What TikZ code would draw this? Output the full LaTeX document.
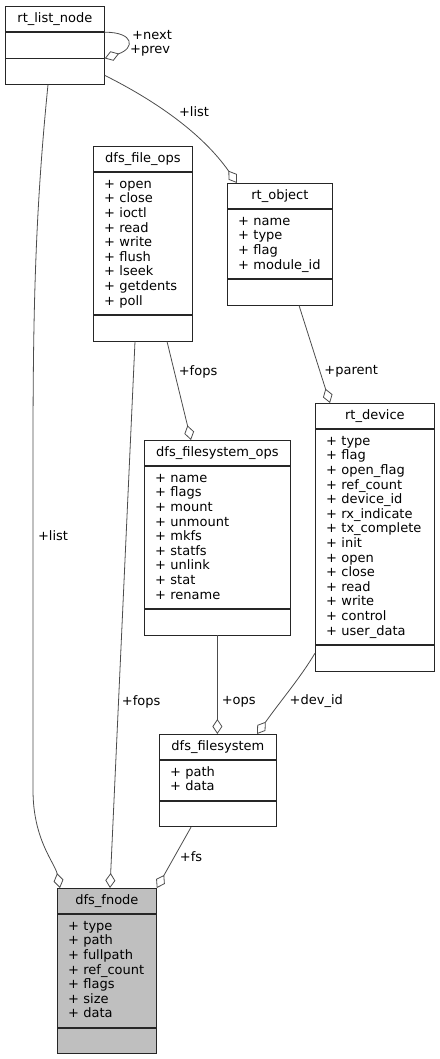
\documentclass[tikz,border=0pt]{standalone}
\usepackage{fontspec}
\setmainfont{DejaVu Sans}
\usepackage{tikz}
\usetikzlibrary{positioning}
\usetikzlibrary{calc}
\usetikzlibrary{arrows.meta}

\begin{document}
\begin{tikzpicture}
	[x=1pt,y=-1pt,
	cell/.style={draw=black!85,line width=0.8pt,inner xsep=0pt,inner ysep=5.4pt,
		font=\fontsize{13}{14.6}\selectfont,
		execute at begin node=\strut,execute at end node=\strut},
	head/.style={cell,anchor=north west},
	members/.style={cell,align=left,inner xsep=10.8pt},
	link/.style={draw=black!70,line width=0.8pt,-{Diamond[open,length=15pt,width=10pt]}},
	role/.style={font=\fontsize{13}{14.6}\selectfont,inner sep=0pt}]

	\useasboundingbox (0,0) rectangle (439,1059);

	% Draw the class boxes
	\node at (5,6) [head,minimum width=99pt](listnode){rt\_list\_node};
	\node [cell,minimum width=99pt,below=0pt of listnode](listnode-m){};
	\node [cell,minimum width=99pt,below=0pt of listnode-m](listnode-e){};

	\node at (93,146) [head,minimum width=99pt](fileops){dfs\_file\_ops};
	\node [members,text width=77.4pt,below=0pt of fileops](fileops-m){+ open\\+ close\\+ ioctl\\+ read\\+ write\\+ flush\\+ lseek\\+ getdents\\+ poll};
	\node [cell,minimum width=99pt,below=0pt of fileops-m](fileops-e){};

	\node at (227,183) [head,minimum width=105pt](object){rt\_object};
	\node [members,text width=83.4pt,below=0pt of object](object-m){+ name\\+ type\\+ flag\\+ module\_id};
	\node [cell,minimum width=105pt,below=0pt of object-m](object-e){};

	\node at (315,403) [head,minimum width=119pt](device){rt\_device};
	\node [members,text width=97.4pt,below=0pt of device](device-m){+ type\\+ flag\\+ open\_flag\\+ ref\_count\\+ device\_id\\+ rx\_indicate\\+ tx\_complete\\+ init\\+ open\\+ close\\+ read\\+ write\\+ control\\+ user\_data};
	\node [cell,minimum width=119pt,below=0pt of device-m](device-e){};

	\node at (144,440) [head,minimum width=146pt](fsops){dfs\_filesystem\_ops};
	\node [members,text width=124.4pt,below=0pt of fsops](fsops-m){+ name\\+ flags\\+ mount\\+ unmount\\+ mkfs\\+ statfs\\+ unlink\\+ stat\\+ rename};
	\node [cell,minimum width=146pt,below=0pt of fsops-m](fsops-e){};

	\node at (159,734) [head,minimum width=117pt](fs){dfs\_filesystem};
	\node [members,text width=95.4pt,below=0pt of fs](fs-m){+ path\\+ data};
	\node [cell,minimum width=117pt,below=0pt of fs-m](fs-e){};

	\node at (57,888) [head,fill=black!25,minimum width=99pt](fnode){dfs\_fnode};
	\node [members,fill=black!25,text width=77.4pt,below=0pt of fnode](fnode-m){+ type\\+ path\\+ fullpath\\+ ref\_count\\+ flags\\+ size\\+ data};
	\node [cell,fill=black!25,minimum width=99pt,below=0pt of fnode-m](fnode-e){};

	% Draw the links between the classes
	\draw[link] (listnode-m.north east) .. controls +(30,0) and +(30,-10) .. (listnode-e.north east);
	\node at (132,35) [role,anchor=west](next-lbl){+next};
	\node at (130,51) [role,anchor=west](prev-lbl){+prev};

	\draw[link] ($(listnode-e.north east)+(0,17)$) .. controls +(50,25) and +(-35,-50) .. ($(object.north west)+(10,0)$);
	\node at (194,112) [role](list-lbl){+list};

	\draw[link] ($(listnode-e.south west)+(43,0)$) .. controls +(-12,120) and +(0,-150) .. (33,450)
		-- (33,790) .. controls +(0,50) and +(-5,-25) .. ($(fnode.north west)+(3,0)$);
	\node at (53,536) [role](list2-lbl){+list};

	\draw[link] ($(fileops-e.south west)+(42,0)$) -- node[role,pos=0.66,right=3pt](fops-lbl){+fops} ($(fnode.north west)+(53,0)$);
	\draw[link] ($(fileops-e.south west)+(74,0)$) -- node[role,pos=0.31,right=4pt](fops2-lbl){+fops} ($(fsops.north west)+(47,0)$);
	\draw[link] ($(object-e.south west)+(72,0)$) -- node[role,pos=0.68,right=4pt](parent-lbl){+parent} ($(device.north west)+(15,0)$);
	\draw[link] (fsops-e.south) -- node[role,pos=0.67,right=4pt](ops-lbl){+ops} (fsops-e.south |- fs.north);

	\draw[link] ($(device-e.north west)+(0,8)$) .. controls +(-15,25) and +(25,-35) .. ($(fs.north west)+(98,0)$);
	\node at (289.5,701) [role,anchor=west](devid-lbl){+dev\_id};

	\draw[link] ($(fs-e.south west)+(32,0)$) -- node[role,pos=0.48,right=5pt](fs-lbl){+fs} (fnode.north east);
\end{tikzpicture}
\end{document}
